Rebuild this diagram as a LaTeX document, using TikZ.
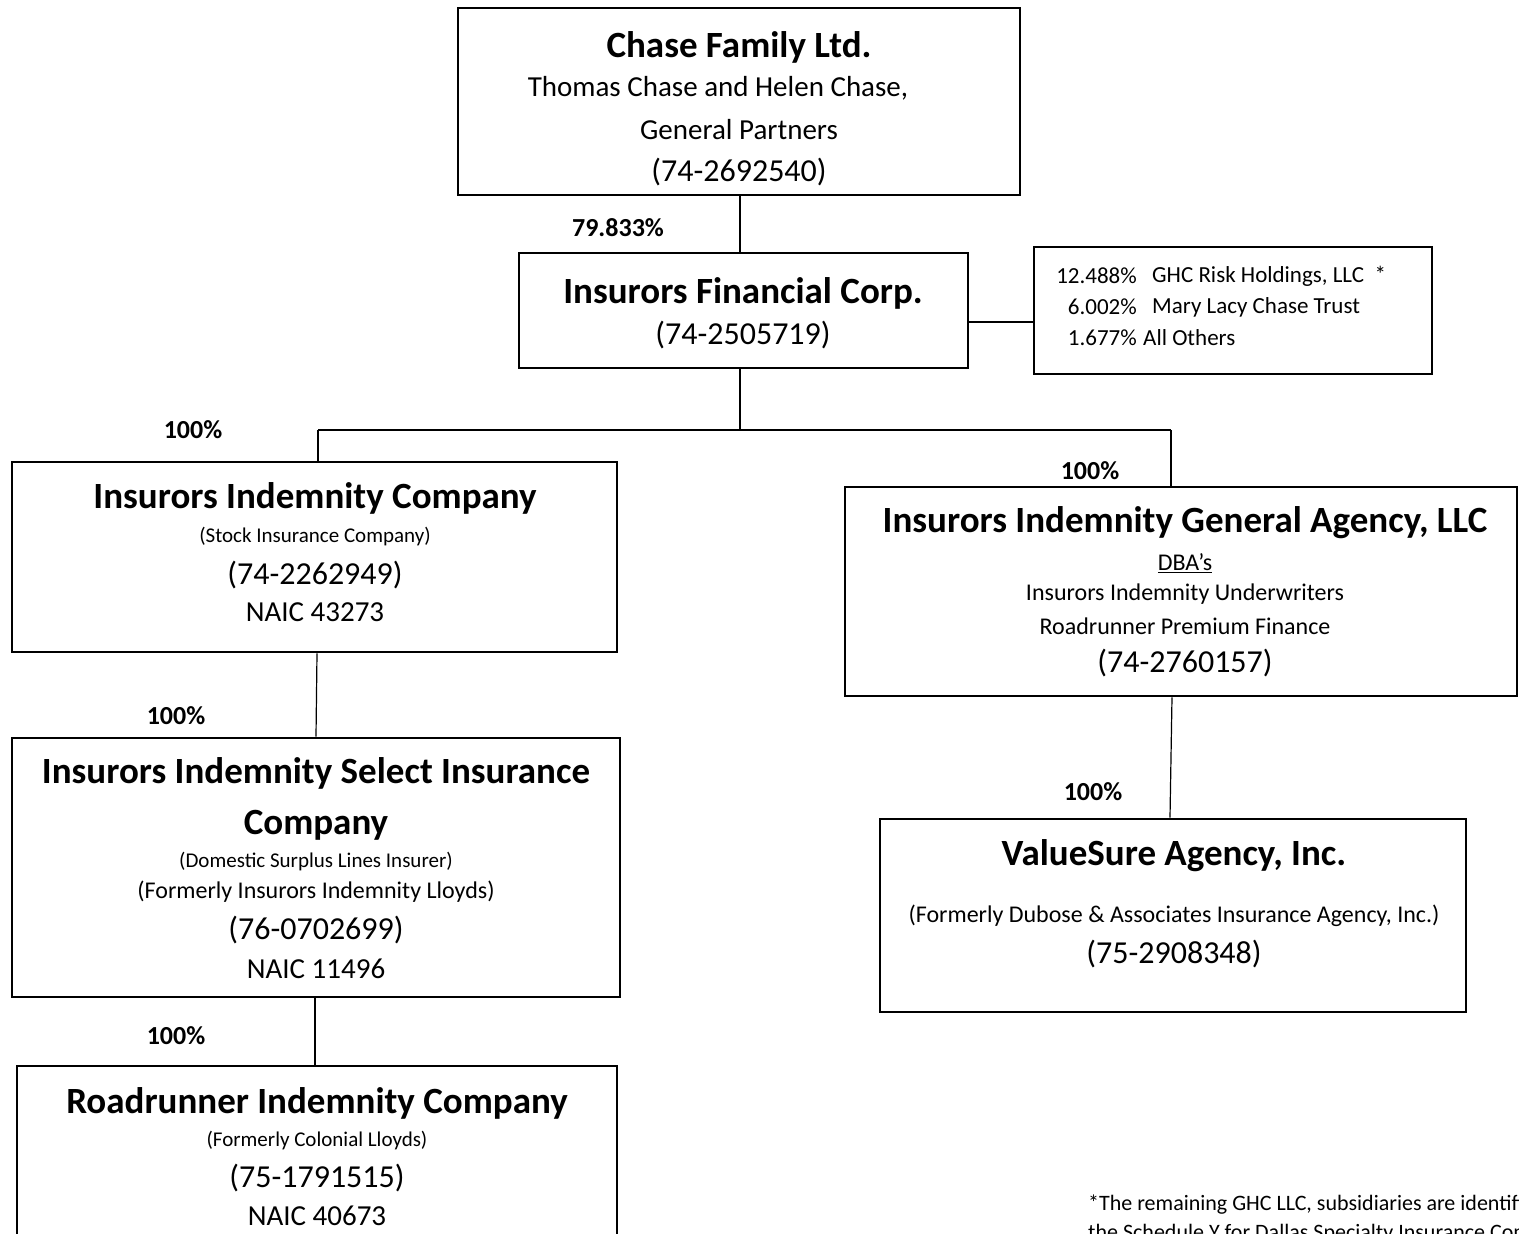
\documentclass[tikz,border=0pt]{standalone}
\usepackage{fontspec}
\setmainfont{Carlito}
\newcommand{\FTitle}{\fontsize{37}{44}\selectfont\bfseries}
\newcommand{\FBody}{\fontsize{29}{34}\selectfont}
\newcommand{\FId}{\fontsize{32}{38}\selectfont}
\newcommand{\FSmall}{\fontsize{21}{25}\selectfont}
\newcommand{\FMed}{\fontsize{24}{29}\selectfont}
\newcommand{\FPct}{\fontsize{26}{31}\selectfont\bfseries}
\newcommand{\FNote}{\fontsize{23}{28}\selectfont}
\newcommand{\FFoot}{\fontsize{22}{27}\selectfont}
\begin{document}
\begin{tikzpicture}[x=1pt,y=-1pt,
  orgbox/.style={draw,line width=2.8pt,inner sep=0pt,minimum width=#1},
  conn/.style={line width=1.2pt},
  txt/.style={inner sep=0pt,anchor=center},
  pct/.style={inner sep=0pt,font=\FPct}]
\useasboundingbox (0,0) rectangle (1519,1234);
\clip (0,0) rectangle (1519,1234);
\fill[white] (0,0) rectangle (1519,1234);

% boxes
\node[orgbox=562pt,minimum height=187pt] (cf) at (739,101.5) {};
\node[orgbox=449pt,minimum height=115pt] (ifc) at (743.5,310.5) {};
\node[orgbox=398pt,minimum height=127pt] (oth) at (1233,310.5) {};
\node[orgbox=605pt,minimum height=190pt] (iic) at (314.5,557) {};
\node[orgbox=608pt,minimum height=259pt] (iisic) at (316,867.5) {};
\node[orgbox=600pt,minimum height=200pt] (ric) at (317,1166) {};
\node[orgbox=672pt,minimum height=209pt] (iiga) at (1181,591.5) {};
\node[orgbox=586pt,minimum height=193pt] (vsa) at (1173,915.5) {};

% junction coordinates
\coordinate (bj) at (740,430);
\coordinate (bl) at (318,430);
\coordinate (br) at (1171,430);
\coordinate (sj) at (0,322);

% connectors
\draw[conn] (cf.south -| bj) -- (ifc.north -| bj);
\draw[conn] (ifc.east |- sj) -- (oth.west |- sj);
\draw[conn] (ifc.south -| bj) -- (bj);
\draw[conn] (bl) -- (br);
\draw[conn] (bl) -- (bl |- iic.north);
\draw[conn] (br) -- (br |- iiga.north);
\draw[conn] (iic.south -| 317,0) -- (iisic.north -| 316,0);
\draw[conn] (iisic.south -| 315,0) -- (ric.north -| 315,0);
\draw[conn] (iiga.south -| 1172,0) -- (vsa.north -| 1170,0);

% percentage labels
\node[pct] (p1) at (618,228) {79.833\%};
\node[pct] (p2) at (193,430) {100\%};
\node[pct] (p3) at (1090,471) {100\%};
\node[pct] (p4) at (176,716) {100\%};
\node[pct] (p5) at (176,1036) {100\%};
\node[pct] (p6) at (1093,792) {100\%};

% Chase Family Ltd.
\node[txt,font=\FTitle] (cf1) at (739,47) {Chase Family Ltd.};
\node[txt,font=\FBody] (cf2) at (718,88) {Thomas Chase and Helen Chase,};
\node[txt,font=\FBody] (cf3) at (739,130) {General Partners};
\node[txt,font=\FId] (cf4) at (739,172) {(74-2692540)};

% Insurors Financial Corp.
\node[txt,font=\FTitle] (ifc1) at (743,293) {Insurors Financial Corp.};
\node[txt,font=\FId] (ifc2) at (743,335) {(74-2505719)};

% Others
\node[inner sep=0pt,anchor=east,font=\FNote] (o1a) at (1137,276) {12.488\%};
\node[inner sep=0pt,anchor=west,font=\FNote] (o1b) at (1152,276) {GHC Risk Holdings, LLC~~*};
\node[inner sep=0pt,anchor=east,font=\FNote] (o2a) at (1137,307) {6.002\%};
\node[inner sep=0pt,anchor=west,font=\FNote] (o2b) at (1152,307) {Mary Lacy Chase Trust};
\node[inner sep=0pt,anchor=east,font=\FNote] (o3a) at (1137,338) {1.677\%};
\node[inner sep=0pt,anchor=west,font=\FNote] (o3b) at (1143,338) {All Others};

% Insurors Indemnity Company
\node[txt,font=\FTitle] (iic1) at (315,498) {Insurors Indemnity Company};
\node[txt,font=\FSmall] (iic2) at (315,537) {(Stock Insurance Company)};
\node[txt,font=\FId] (iic3) at (315,575) {(74-2262949)};
\node[txt,font=\FBody] (iic4) at (315,612) {NAIC 43273};

% Insurors Indemnity Select Insurance Company
\node[txt,font=\FTitle] (is1) at (316,773) {Insurors Indemnity Select Insurance};
\node[txt,font=\FTitle] (is2) at (316,825) {Company};
\node[txt,font=\FSmall] (is3) at (316,862) {(Domestic Surplus Lines Insurer)};
\node[txt,font=\FMed] (is4) at (316,892) {(Formerly Insurors Indemnity Lloyds)};
\node[txt,font=\FId] (is5) at (316,930) {(76-0702699)};
\node[txt,font=\FBody] (is6) at (316,969) {NAIC 11496};

% Roadrunner Indemnity Company
\node[txt,font=\FTitle] (r1) at (317,1103) {Roadrunner Indemnity Company};
\node[txt,font=\FSmall] (r2) at (317,1141) {(Formerly Colonial Lloyds)};
\node[txt,font=\FId] (r3) at (317,1178) {(75-1791515)};
\node[txt,font=\FBody] (r4) at (317,1216) {NAIC 40673};

% Insurors Indemnity General Agency, LLC
\node[txt,font=\FTitle] (g1) at (1185,523) {Insurors Indemnity General Agency, LLC};
\node[txt,font=\FMed] (g2) at (1185,563) {\underline{DBA’s}};
\node[txt,font=\FMed] (g3) at (1185,594) {Insurors Indemnity Underwriters};
\node[txt,font=\FMed] (g4) at (1185,626) {Roadrunner Premium Finance};
\node[txt,font=\FId] (g5) at (1185,663) {(74-2760157)};

% ValueSure Agency, Inc.
\node[txt,font=\FTitle] (v1) at (1174,856) {ValueSure Agency, Inc.};
\node[txt,font=\FMed] (v2) at (1174,916) {(Formerly Dubose \& Associates Insurance Agency, Inc.)};
\node[txt,font=\FId] (v3) at (1174,954) {(75-2908348)};

% footnote (cut off at the right edge, as in the reference)
\node[inner sep=0pt,anchor=west,font=\FFoot] (n1) at (1088,1205) {*The remaining GHC LLC, subsidiaries are identified on};
\node[inner sep=0pt,anchor=west,font=\FFoot] (n2) at (1088,1234) {the Schedule Y for Dallas Specialty Insurance Company};
\end{tikzpicture}
\end{document}
